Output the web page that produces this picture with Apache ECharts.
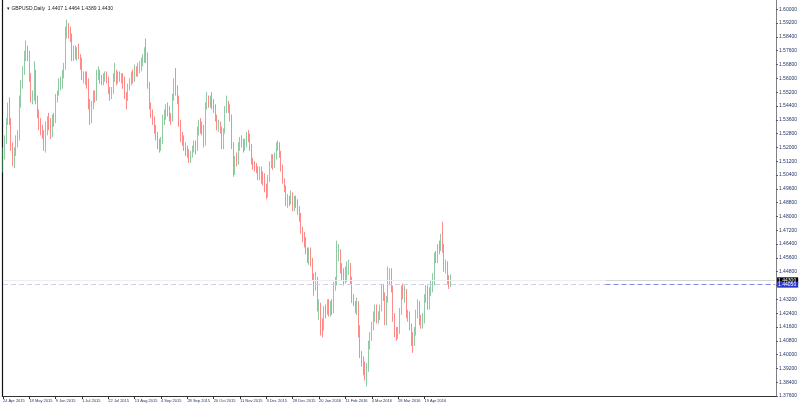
<!DOCTYPE html>
<html>
<head>
<meta charset="utf-8">
<script src="https://cdn.jsdelivr.net/npm/echarts@6/dist/echarts.min.js"></script>
<style>
html,body{margin:0;padding:0;background:#fff;}
#chart{width:800px;height:407px;}
</style>
</head>
<body>
<div id="chart"></div>
<script>
// ---- data (GBPUSD daily) ----
const symbolTitle = "GBPUSD,Daily";
const xTickLabels = ["24 Apr 2015","18 May 2015","9 Jun 2015","1 Jul 2015","22 Jul 2015","13 Aug 2015","4 Sep 2015","28 Sep 2015","20 Oct 2015","11 Nov 2015","3 Dec 2015","28 Dec 2015","20 Jan 2016","11 Feb 2016","4 Mar 2016","28 Mar 2016","19 Apr 2016"];
const barsPerTick = 16;
const totalSlots = 470;
const yTickStep = 0.008;
const yMin = 1.376;
const yMax = 1.60539;

const opens = [
1.5080,1.5180,1.5240,1.5350,1.5430,1.5350,1.5200,1.5140,1.5170,1.5240,
1.5260,1.5460,1.5570,1.5650,1.5720,1.5760,1.5730,1.5600,1.5480,1.5490,
1.5640,1.5480,1.5390,1.5330,1.5300,1.5280,1.5220,1.5340,1.5360,1.5350,
1.5280,1.5380,1.5350,1.5500,1.5520,1.5570,1.5580,1.5620,1.5660,1.5880,
1.5900,1.5870,1.5840,1.5720,1.5760,1.5740,1.5750,1.5730,1.5710,1.5600,
1.5600,1.5610,1.5580,1.5440,1.5360,1.5450,1.5510,1.5490,1.5630,1.5640,
1.5600,1.5580,1.5600,1.5620,1.5600,1.5530,1.5500,1.5530,1.5610,1.5620,
1.5590,1.5610,1.5600,1.5605,1.5590,1.5500,1.5490,1.5550,1.5580,1.5610,
1.5600,1.5640,1.5635,1.5650,1.5670,1.5700,1.5720,1.5750,1.5730,1.5560,
1.5430,1.5390,1.5350,1.5300,1.5270,1.5210,1.5190,1.5240,1.5370,1.5390,
1.5430,1.5420,1.5380,1.5370,1.5490,1.5580,1.5530,1.5480,1.5340,1.5250,
1.5240,1.5200,1.5170,1.5160,1.5130,1.5150,1.5190,1.5220,1.5190,1.5300,
1.5340,1.5320,1.5310,1.5220,1.5440,1.5480,1.5450,1.5480,1.5460,1.5430,
1.5370,1.5310,1.5340,1.5300,1.5200,1.5300,1.5430,1.5440,1.5430,1.5370,
1.5210,1.5060,1.5130,1.5120,1.5200,1.5240,1.5230,1.5200,1.5220,1.5270,
1.5260,1.5200,1.5120,1.5100,1.5090,1.5070,1.5030,1.5070,1.5040,1.5030,
1.4960,1.4940,1.5020,1.5100,1.5140,1.5100,1.5150,1.5200,1.5210,1.5160,
1.5080,1.5000,1.4960,1.4880,1.4900,1.4890,1.4930,1.4850,1.4900,1.4880,
1.4840,1.4800,1.4720,1.4680,1.4650,1.4600,1.4560,1.4600,1.4540,1.4450,
1.4420,1.4430,1.4270,1.4290,1.4180,1.4160,1.4260,1.4250,1.4300,1.4240,
1.4290,1.4250,1.4400,1.4420,1.4580,1.4590,1.4500,1.4460,1.4440,1.4490,
1.4500,1.4505,1.4430,1.4320,1.4300,1.4270,1.4300,1.4150,1.4000,1.3960,
1.3930,1.3880,1.3920,1.4060,1.4100,1.4160,1.4230,1.4260,1.4200,1.4220,
1.4270,1.4390,1.4340,1.4190,1.4320,1.4450,1.4470,1.4390,1.4210,1.4120,
1.4115,1.4130,1.4250,1.4390,1.4350,1.4370,1.4230,1.4235,1.4160,1.4110,
1.4080,1.4130,1.4240,1.4300,1.4190,1.4180,1.4200,1.4330,1.4380,1.4280,
1.4370,1.4400,1.4430,1.4570,1.4560,1.4620,1.4615,1.4680,1.4620,1.4500,
1.4510,1.4430,1.4407];

const closes = [
1.5180,1.5240,1.5350,1.5430,1.5350,1.5200,1.5140,1.5170,1.5240,1.5260,
1.5460,1.5570,1.5650,1.5720,1.5760,1.5730,1.5600,1.5480,1.5490,1.5640,
1.5480,1.5390,1.5330,1.5300,1.5280,1.5220,1.5340,1.5360,1.5350,1.5280,
1.5380,1.5350,1.5500,1.5520,1.5570,1.5580,1.5620,1.5660,1.5880,1.5900,
1.5870,1.5840,1.5720,1.5760,1.5740,1.5750,1.5730,1.5710,1.5600,1.5600,
1.5610,1.5580,1.5440,1.5360,1.5450,1.5510,1.5490,1.5630,1.5640,1.5600,
1.5580,1.5600,1.5620,1.5600,1.5530,1.5500,1.5530,1.5610,1.5620,1.5590,
1.5610,1.5600,1.5605,1.5590,1.5500,1.5490,1.5550,1.5580,1.5610,1.5600,
1.5640,1.5635,1.5650,1.5670,1.5700,1.5720,1.5750,1.5730,1.5560,1.5430,
1.5390,1.5350,1.5300,1.5270,1.5210,1.5190,1.5240,1.5370,1.5390,1.5430,
1.5420,1.5380,1.5370,1.5490,1.5580,1.5530,1.5480,1.5340,1.5250,1.5240,
1.5200,1.5170,1.5160,1.5130,1.5150,1.5190,1.5220,1.5190,1.5300,1.5340,
1.5320,1.5310,1.5220,1.5440,1.5480,1.5450,1.5480,1.5460,1.5430,1.5370,
1.5310,1.5340,1.5300,1.5200,1.5300,1.5430,1.5440,1.5430,1.5370,1.5210,
1.5060,1.5130,1.5120,1.5200,1.5240,1.5230,1.5200,1.5220,1.5270,1.5260,
1.5200,1.5120,1.5100,1.5090,1.5070,1.5030,1.5070,1.5040,1.5030,1.4960,
1.4940,1.5020,1.5100,1.5140,1.5100,1.5150,1.5200,1.5210,1.5160,1.5080,
1.5000,1.4960,1.4880,1.4900,1.4890,1.4930,1.4850,1.4900,1.4880,1.4840,
1.4800,1.4720,1.4680,1.4650,1.4600,1.4560,1.4600,1.4540,1.4450,1.4420,
1.4430,1.4270,1.4290,1.4180,1.4160,1.4260,1.4250,1.4300,1.4240,1.4290,
1.4250,1.4400,1.4420,1.4580,1.4590,1.4500,1.4460,1.4440,1.4490,1.4500,
1.4505,1.4430,1.4320,1.4300,1.4270,1.4300,1.4150,1.4000,1.3960,1.3930,
1.3880,1.3920,1.4060,1.4100,1.4160,1.4230,1.4260,1.4200,1.4220,1.4270,
1.4390,1.4340,1.4190,1.4320,1.4450,1.4470,1.4390,1.4210,1.4120,1.4115,
1.4130,1.4250,1.4390,1.4350,1.4370,1.4230,1.4235,1.4160,1.4110,1.4080,
1.4130,1.4240,1.4300,1.4190,1.4180,1.4200,1.4330,1.4380,1.4280,1.4370,
1.4400,1.4430,1.4570,1.4560,1.4620,1.4615,1.4680,1.4620,1.4500,1.4510,
1.4430,1.4407,1.4430];

const lows = [
1.5055,1.5130,1.5220,1.5330,1.5330,1.5180,1.5090,1.5080,1.5150,1.5200,
1.5240,1.5430,1.5540,1.5620,1.5700,1.5700,1.5580,1.5460,1.5450,1.5470,
1.5450,1.5370,1.5300,1.5270,1.5250,1.5180,1.5170,1.5270,1.5300,1.5250,
1.5260,1.5320,1.5340,1.5460,1.5500,1.5530,1.5540,1.5600,1.5650,1.5830,
1.5830,1.5810,1.5700,1.5700,1.5710,1.5700,1.5710,1.5650,1.5590,1.5570,
1.5560,1.5540,1.5420,1.5330,1.5340,1.5420,1.5460,1.5470,1.5590,1.5570,
1.5560,1.5560,1.5580,1.5570,1.5510,1.5470,1.5480,1.5510,1.5580,1.5560,
1.5570,1.5580,1.5570,1.5540,1.5480,1.5420,1.5470,1.5530,1.5560,1.5570,
1.5580,1.5610,1.5610,1.5630,1.5640,1.5670,1.5690,1.5690,1.5540,1.5420,
1.5370,1.5330,1.5280,1.5240,1.5190,1.5170,1.5180,1.5220,1.5330,1.5360,
1.5380,1.5350,1.5330,1.5350,1.5470,1.5500,1.5450,1.5320,1.5230,1.5210,
1.5180,1.5150,1.5140,1.5110,1.5110,1.5140,1.5170,1.5160,1.5180,1.5270,
1.5280,1.5270,1.5200,1.5210,1.5420,1.5430,1.5430,1.5420,1.5400,1.5350,
1.5300,1.5290,1.5280,1.5190,1.5190,1.5280,1.5400,1.5400,1.5350,1.5190,
1.5030,1.5040,1.5090,1.5100,1.5180,1.5200,1.5170,1.5180,1.5200,1.5230,
1.5180,1.5100,1.5070,1.5060,1.5050,1.5010,1.5010,1.4990,1.4980,1.4940,
1.4900,1.4910,1.5000,1.5080,1.5070,1.5080,1.5130,1.5180,1.5140,1.5060,
1.4990,1.4940,1.4860,1.4850,1.4860,1.4870,1.4830,1.4830,1.4850,1.4810,
1.4770,1.4700,1.4650,1.4620,1.4580,1.4530,1.4520,1.4510,1.4430,1.4340,
1.4370,1.4250,1.4200,1.4110,1.4100,1.4140,1.4210,1.4230,1.4220,1.4220,
1.4230,1.4240,1.4370,1.4400,1.4540,1.4470,1.4430,1.4400,1.4410,1.4420,
1.4460,1.4410,1.4300,1.4280,1.4240,1.4230,1.4100,1.3980,1.3930,1.3880,
1.3850,1.3815,1.3900,1.4030,1.4080,1.4140,1.4190,1.4180,1.4180,1.4200,
1.4250,1.4310,1.4170,1.4170,1.4300,1.4400,1.4360,1.4190,1.4100,1.4080,
1.4090,1.4120,1.4230,1.4320,1.4300,1.4210,1.4190,1.4140,1.4050,1.4010,
1.4050,1.4110,1.4210,1.4170,1.4150,1.4150,1.4180,1.4300,1.4260,1.4260,
1.4340,1.4360,1.4400,1.4530,1.4530,1.4580,1.4600,1.4590,1.4480,1.4470,
1.4410,1.4380,1.4389];

const highs = [
1.5200,1.5270,1.5370,1.5460,1.5490,1.5370,1.5230,1.5200,1.5270,1.5300,
1.5500,1.5590,1.5670,1.5760,1.5820,1.5790,1.5760,1.5630,1.5530,1.5700,
1.5650,1.5500,1.5420,1.5370,1.5330,1.5300,1.5350,1.5380,1.5400,1.5370,
1.5390,1.5400,1.5510,1.5530,1.5600,1.5610,1.5650,1.5690,1.5900,1.5940,
1.5920,1.5900,1.5860,1.5790,1.5790,1.5780,1.5800,1.5740,1.5720,1.5640,
1.5640,1.5640,1.5600,1.5480,1.5470,1.5530,1.5530,1.5650,1.5670,1.5650,
1.5620,1.5630,1.5640,1.5640,1.5610,1.5550,1.5550,1.5630,1.5690,1.5650,
1.5640,1.5640,1.5630,1.5630,1.5610,1.5520,1.5570,1.5600,1.5640,1.5650,
1.5680,1.5670,1.5690,1.5700,1.5720,1.5740,1.5780,1.5830,1.5750,1.5580,
1.5460,1.5420,1.5380,1.5330,1.5290,1.5250,1.5260,1.5390,1.5420,1.5450,
1.5460,1.5440,1.5400,1.5510,1.5600,1.5660,1.5560,1.5500,1.5360,1.5290,
1.5270,1.5230,1.5210,1.5190,1.5180,1.5210,1.5240,1.5240,1.5320,1.5360,
1.5370,1.5350,1.5330,1.5460,1.5520,1.5500,1.5500,1.5520,1.5480,1.5450,
1.5390,1.5360,1.5350,1.5320,1.5310,1.5440,1.5500,1.5470,1.5450,1.5390,
1.5230,1.5150,1.5170,1.5230,1.5260,1.5270,1.5250,1.5250,1.5290,1.5300,
1.5280,1.5220,1.5140,1.5120,1.5110,1.5090,1.5090,1.5090,1.5060,1.5050,
1.4990,1.5040,1.5120,1.5160,1.5160,1.5170,1.5230,1.5240,1.5230,1.5180,
1.5100,1.5020,1.4980,1.4930,1.4920,1.4950,1.4940,1.4920,1.4920,1.4900,
1.4860,1.4820,1.4740,1.4710,1.4680,1.4620,1.4620,1.4620,1.4560,1.4470,
1.4480,1.4450,1.4320,1.4300,1.4210,1.4280,1.4290,1.4320,1.4320,1.4310,
1.4320,1.4420,1.4450,1.4660,1.4640,1.4610,1.4530,1.4500,1.4510,1.4540,
1.4550,1.4530,1.4450,1.4350,1.4310,1.4330,1.4310,1.4170,1.4020,1.3990,
1.3960,1.3950,1.4080,1.4130,1.4190,1.4250,1.4290,1.4290,1.4250,1.4290,
1.4410,1.4410,1.4360,1.4340,1.4510,1.4500,1.4500,1.4400,1.4240,1.4160,
1.4160,1.4270,1.4400,1.4410,1.4400,1.4380,1.4260,1.4250,1.4180,1.4130,
1.4160,1.4260,1.4320,1.4310,1.4230,1.4240,1.4350,1.4400,1.4400,1.4390,
1.4430,1.4470,1.4590,1.4600,1.4640,1.4660,1.4700,1.4770,1.4640,1.4550,
1.4540,1.4460,1.4464];

const levelLinePrice = 1.4405;      // dashed horizontal level
const shadeStartSlot = 366;         // where the right-hand darker part begins

// ---- build ----
const last = closes.length - 1;
const bidPrice = closes[last];
const categories = Array.from({length: totalSlots}, (_, i) => String(i));
const candleData = opens.map((o, i) => [o, closes[i], lows[i], highs[i]]);
const isTick = (i) => i % barsPerTick === 0 && (i / barsPerTick) < xTickLabels.length;
const fmt = (v) => v.toFixed(5);
const font = 'Liberation Sans';

const chart = echarts.init(document.getElementById('chart'), null, {renderer: 'canvas'});
chart.setOption({
  animation: false,
  backgroundColor: '#ffffff',
  title: {
    text: '\u25BE ' + symbolTitle + '  ' + [opens[last], highs[last], lows[last], closes[last]].map(v => v.toFixed(4)).join(' '),
    left: 2, top: 1,
    textStyle: {fontSize: 5, fontWeight: 'normal', color: '#222', fontFamily: font}
  },
  grid: {left: 0, right: 17, top: 0, bottom: 11, containLabel: false},
  xAxis: {
    type: 'category',
    data: categories,
    boundaryGap: true,
    axisLine: {show: true, lineStyle: {color: '#333', width: 1}},
    axisTick: {show: true, alignWithLabel: true, length: 3, interval: (i) => isTick(i), lineStyle: {color: '#333'}},
    axisLabel: {
      show: true, interval: (i) => isTick(i), hideOverlap: false, showMinLabel: true,
      formatter: (v, i) => xTickLabels[i / barsPerTick] || '',
      align: 'left', margin: 3, fontSize: 4, color: '#1f2f55', fontFamily: font
    },
    splitLine: {show: false}
  },
  yAxis: [{
    type: 'value',
    position: 'right',
    min: yMin, max: yMax, interval: yTickStep,
    scale: true,
    axisLine: {show: true, lineStyle: {color: '#808080', width: 1}},
    axisTick: {show: true, length: 2, lineStyle: {color: '#555'}},
    axisLabel: {show: true, showMaxLabel: false, margin: 3, fontSize: 5, color: '#1f3566', fontFamily: font, formatter: fmt},
    splitLine: {show: false}
  }, {
    type: 'value',
    position: 'left',
    min: yMin, max: yMax,
    axisLine: {show: true, lineStyle: {color: '#111', width: 1.2}},
    axisTick: {show: false}, axisLabel: {show: false}, splitLine: {show: false}
  }],
  series: [{
    type: 'candlestick',
    data: candleData,
    barWidth: 0.8,
    itemStyle: {
      color: '#45a866', color0: '#ff3a3a',
      borderColor: '#45a866', borderColor0: '#ff3a3a',
      borderWidth: 0.6
    },
    markLine: {
      silent: true,
      symbol: 'none',
      animation: false,
      data: [
        [{coord: ['0', bidPrice], lineStyle: {color: '#ececec', type: 'solid', width: 1}, label: {show: false}},
         {coord: [String(shadeStartSlot), bidPrice]}],
        [{coord: [String(shadeStartSlot), bidPrice], lineStyle: {color: '#d4d4d4', type: 'solid', width: 1},
          label: {show: true, position: 'end', formatter: fmt(bidPrice), color: '#fff', backgroundColor: '#000', fontSize: 5, padding: [1, 2, 0, 1], distance: 2, fontFamily: font}},
         {coord: [String(totalSlots - 1), bidPrice]}],
        [{coord: ['0', levelLinePrice], lineStyle: {color: '#cfcdf0', type: [5, 3], width: 1}, label: {show: false}},
         {coord: [String(shadeStartSlot), levelLinePrice]}],
        [{coord: [String(shadeStartSlot), levelLinePrice], lineStyle: {color: '#8582e0', type: [5, 3], width: 1},
          label: {show: true, position: 'end', formatter: fmt(levelLinePrice), color: '#fff', backgroundColor: '#2a36c8', fontSize: 5, padding: [1, 2, 0, 1], distance: 2, fontFamily: font}},
         {coord: [String(totalSlots - 1), levelLinePrice]}]
      ]
    }
  }]
});
</script>
</body>
</html>
